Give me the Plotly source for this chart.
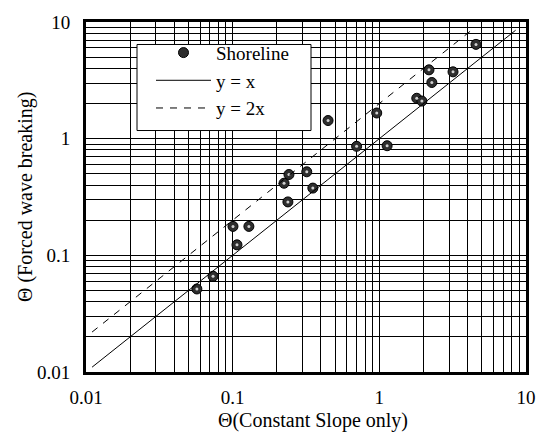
import plotly.graph_objects as go

# Data
shore_x = [0.057, 0.0735, 0.1005, 0.107, 0.129, 0.224, 0.238, 0.242, 0.32, 0.352,
           0.447, 0.70, 0.96, 1.13, 1.80, 1.95, 2.18, 2.28, 3.18, 4.56]
shore_y = [0.0515, 0.0662, 0.177, 0.123, 0.177, 0.415, 0.287, 0.493, 0.52, 0.377,
           1.43, 0.86, 1.66, 0.87, 2.22, 2.10, 3.89, 3.03, 3.74, 6.43]

line1_x = [0.011, 8.5]
line1_y = [0.011, 8.5]
line2_x = [0.011, 4.2]
line2_y = [2 * v for v in line2_x]

decades = [0.01, 0.1, 1]
tick_vals = [m * d for d in decades for m in range(1, 10)] + [10]
major_labels = {0.01: "0.01", 0.1: "0.1", 1: "1", 10: "10"}
tick_text = []
for d in decades:
    for m in range(1, 10):
        tick_text.append(major_labels[d] if m == 1 else "")
tick_text.append("10")

FONT = "Liberation Serif, Times New Roman, serif"

# plot-area geometry in pixels (for placing paper-referenced items)
L, R, T, B = 86, 526, 14, 372
W, H = R - L, B - T


def px(xp):
    return (xp - L) / W


def py(yp):
    return (B - yp) / H


fig = go.Figure()
fig.add_trace(go.Scatter(
    x=shore_x, y=shore_y, mode="markers", name="Shoreline",
    marker=dict(size=10, color="#2e2e2e", line=dict(color="black", width=1)),
))
fig.add_trace(go.Scatter(
    x=shore_x, y=shore_y, mode="markers", showlegend=False, hoverinfo="skip",
    marker=dict(size=3, color="#d0d0d0"),
))
fig.add_trace(go.Scatter(
    x=line1_x, y=line1_y, mode="lines", name="y = x",
    line=dict(color="black", width=1),
))
fig.add_trace(go.Scatter(
    x=line2_x, y=line2_y, mode="lines", name="y = 2x",
    line=dict(color="black", width=1, dash="7px,7px"),
))

axis_common = dict(
    type="log",
    tickvals=tick_vals,
    ticktext=tick_text,
    showgrid=True,
    gridcolor="black",
    gridwidth=1,
    showline=True,
    linecolor="black",
    linewidth=3,
    mirror=True,
    ticks="",
    zeroline=False,
    tickfont=dict(family=FONT, size=19, color="black"),
)

fig.update_xaxes(range=[-2, 1], ticklabelstandoff=6, **axis_common)
fig.update_yaxes(range=[-2, 1], ticklabelstandoff=9, **axis_common)

fig.update_layout(
    width=548, height=433,
    margin=dict(l=L, r=548 - R, t=T, b=433 - B),
    paper_bgcolor="white",
    plot_bgcolor="white",
    font=dict(family=FONT, size=19, color="black"),
    showlegend=True,
    legend=dict(
        x=px(151), y=py(26), xanchor="left", yanchor="top",
        bgcolor="rgba(0,0,0,0)", borderwidth=0,
        font=dict(family=FONT, size=19, color="black"),
        itemwidth=55,
        tracegroupgap=0,
    ),
    shapes=[
        dict(type="rect", xref="paper", yref="paper", layer="above",
             x0=px(137), x1=px(311), y0=py(125), y1=py(37),
             fillcolor="white", line=dict(color="black", width=1)),
    ],
    annotations=[
        dict(text="Θ(Constant Slope only)", xref="paper", yref="paper",
             x=px(313), y=py(422),
             xanchor="center", yanchor="middle", showarrow=False,
             font=dict(family=FONT, size=20, color="black")),
        dict(text="Θ (Forced wave breaking)", xref="paper", yref="paper",
             x=px(25), y=0.5, textangle=-90,
             xanchor="center", yanchor="middle", showarrow=False,
             font=dict(family=FONT, size=20, color="black")),
    ],
)

fig.write_html("out.html")
